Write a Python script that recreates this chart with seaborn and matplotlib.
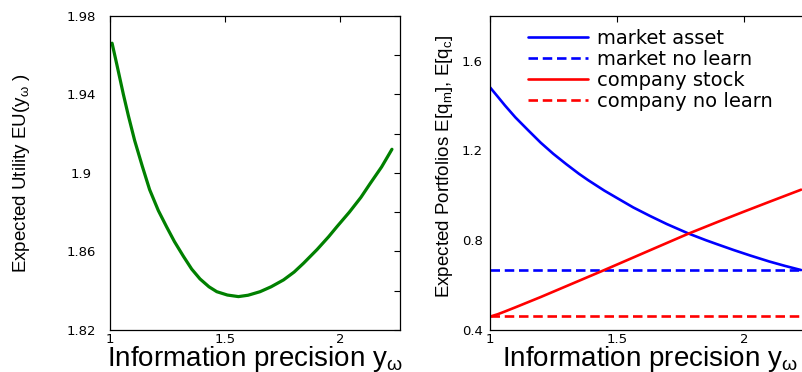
import matplotlib
matplotlib.use("Agg")
import matplotlib.pyplot as plt
from matplotlib.ticker import FormatStrFormatter
import seaborn as sns

# values
precision_eu = [1.009, 1.03, 1.058, 1.08, 1.107, 1.14, 1.172, 1.21, 1.246, 1.28,
                1.319, 1.355, 1.391, 1.43, 1.464, 1.51, 1.558, 1.60, 1.652, 1.70,
                1.754, 1.80, 1.841, 1.90, 1.95, 1.986, 2.04, 2.09, 2.13, 2.18, 2.225]
expected_utility = [1.966, 1.955, 1.940, 1.929, 1.9165, 1.9035, 1.8915, 1.8808, 1.8725, 1.865,
                    1.8575, 1.851, 1.846, 1.842, 1.8395, 1.8378, 1.837, 1.8377, 1.8395, 1.842,
                    1.8455, 1.8495, 1.854, 1.861, 1.8675, 1.8726, 1.880, 1.8875, 1.8945, 1.903, 1.912]

precision_mkt = [1.0, 1.03, 1.059, 1.10, 1.15, 1.20, 1.249, 1.30, 1.35, 1.387, 1.45,
                 1.50, 1.564, 1.63, 1.696, 1.781, 1.85, 1.892, 1.96, 2.024, 2.10,
                 2.16, 2.225]
market_asset = [1.481, 1.440, 1.400, 1.347, 1.290, 1.234, 1.185, 1.139, 1.096, 1.067, 1.021,
                0.988, 0.946, 0.908, 0.872, 0.830, 0.800, 0.783, 0.756, 0.732, 0.705,
                0.686, 0.667]

precision_comp = [1.007, 1.03, 1.06, 1.10, 1.15, 1.20, 1.25, 1.30, 1.35, 1.40, 1.45,
                  1.55, 1.65, 1.781, 1.90, 1.997, 2.10, 2.225]
company_stock = [0.462, 0.470, 0.483, 0.501, 0.524, 0.547, 0.571, 0.595, 0.619, 0.643, 0.667,
                 0.716, 0.765, 0.829, 0.883, 0.926, 0.971, 1.025]

nolearn_x = [1.0, 2.225]
market_no_learn = [0.667, 0.667]
company_no_learn = [0.464, 0.464]

legend_labels = ["market asset", "market no learn", "company stock", "company no learn"]

eu_ticks = [1.82, 1.86, 1.90, 1.94, 1.98]
eu_minor = [1.84, 1.88, 1.92, 1.96]
port_ticks = [0.4, 0.8, 1.2, 1.6]
port_minor = [0.6, 1.0, 1.4, 1.8]
x_ticks = [1, 1.5, 2]

sns.set_style("white")
plt.rcParams["font.family"] = ["DejaVu Sans"]
plt.rcParams["mathtext.fontset"] = "custom"
plt.rcParams["mathtext.rm"] = "Liberation Sans"
plt.rcParams["mathtext.it"] = "Liberation Sans"
for key in ("text.color", "axes.labelcolor", "xtick.color", "ytick.color"):
    plt.rcParams[key] = "black"

fig = plt.figure(figsize=(8.02, 3.72), dpi=100)
ax1 = fig.add_axes([110 / 802, 42 / 372, 290 / 802, 314.3 / 372])
ax2 = fig.add_axes([490 / 802, 42 / 372, 320 / 802, 314.3 / 372])

# left panel: expected utility
sns.lineplot(x=precision_eu, y=expected_utility, ax=ax1, color="#008000",
             linewidth=2.3, sort=False)
ax1.set_xlim(1, 2.26)
ax1.set_ylim(1.82, 1.98)
ax1.set_yticks(eu_ticks)
ax1.set_yticks(eu_minor, minor=True)
ax1.yaxis.set_major_formatter(FormatStrFormatter("%g"))

# right panel: expected portfolios
sns.lineplot(x=precision_mkt, y=market_asset, ax=ax2, color="#0000ff",
             linewidth=1.9, sort=False, label=legend_labels[0])
sns.lineplot(x=nolearn_x, y=market_no_learn, ax=ax2, color="#0000ff",
             linewidth=1.9, linestyle="--", label=legend_labels[1])
sns.lineplot(x=precision_comp, y=company_stock, ax=ax2, color="#ff0000",
             linewidth=1.9, sort=False, label=legend_labels[2])
sns.lineplot(x=nolearn_x, y=company_no_learn, ax=ax2, color="#ff0000",
             linewidth=1.9, linestyle="--", label=legend_labels[3])
for ln in ax2.lines[1::2]:
    ln.set_dashes((3.6, 1.8))
ax2.set_xlim(1, 2.26)
ax2.set_ylim(0.4, 1.8)
ax2.set_yticks(port_ticks)
ax2.set_yticks(port_minor, minor=True)
ax2.yaxis.set_major_formatter(FormatStrFormatter("%g"))

leg = ax2.legend(loc="upper left", bbox_to_anchor=(0.119, 0.957), frameon=False,
                 borderpad=0, borderaxespad=0, fontsize=14, handlelength=3.1,
                 handletextpad=0.45, labelspacing=0.1)
for h in leg.get_lines()[1::2]:
    h.set_dashes((3.6, 1.8))

for ax in (ax1, ax2):
    ax.set_xticks(x_ticks)
    ax.xaxis.set_major_formatter(FormatStrFormatter("%g"))
    ax.tick_params(which="both", direction="in", top=True, right=True,
                   length=4, width=0.8, labelsize=9.5, color="black")
    ax.tick_params(axis="x", pad=2.5)
    for sp in ax.spines.values():
        sp.set_visible(True)
        sp.set_color("black")
        sp.set_linewidth(0.9)
    ax.set_xlabel("Information precision y$_{\\omega}$", fontsize=20,
                  family="Liberation Sans")
    ax.xaxis.set_label_coords(0.5, -0.046)

ax1.tick_params(axis="y", pad=21)
plt.setp(ax1.get_yticklabels(), ha="center")
ax2.tick_params(axis="y", pad=5)

ax1.set_ylabel("Expected Utility EU(y$_{\\omega}$ )", fontsize=13.5,
               family="Liberation Sans")
ax1.yaxis.set_label_coords(-0.269, 0.5)
ax2.set_ylabel("Expected Portfolios E[q$_{m}$], E[q$_{c}$]", fontsize=13.5,
               family="Liberation Sans")
ax2.yaxis.set_label_coords(-0.109, 0.52)

fig.savefig("out.png", dpi=100)
